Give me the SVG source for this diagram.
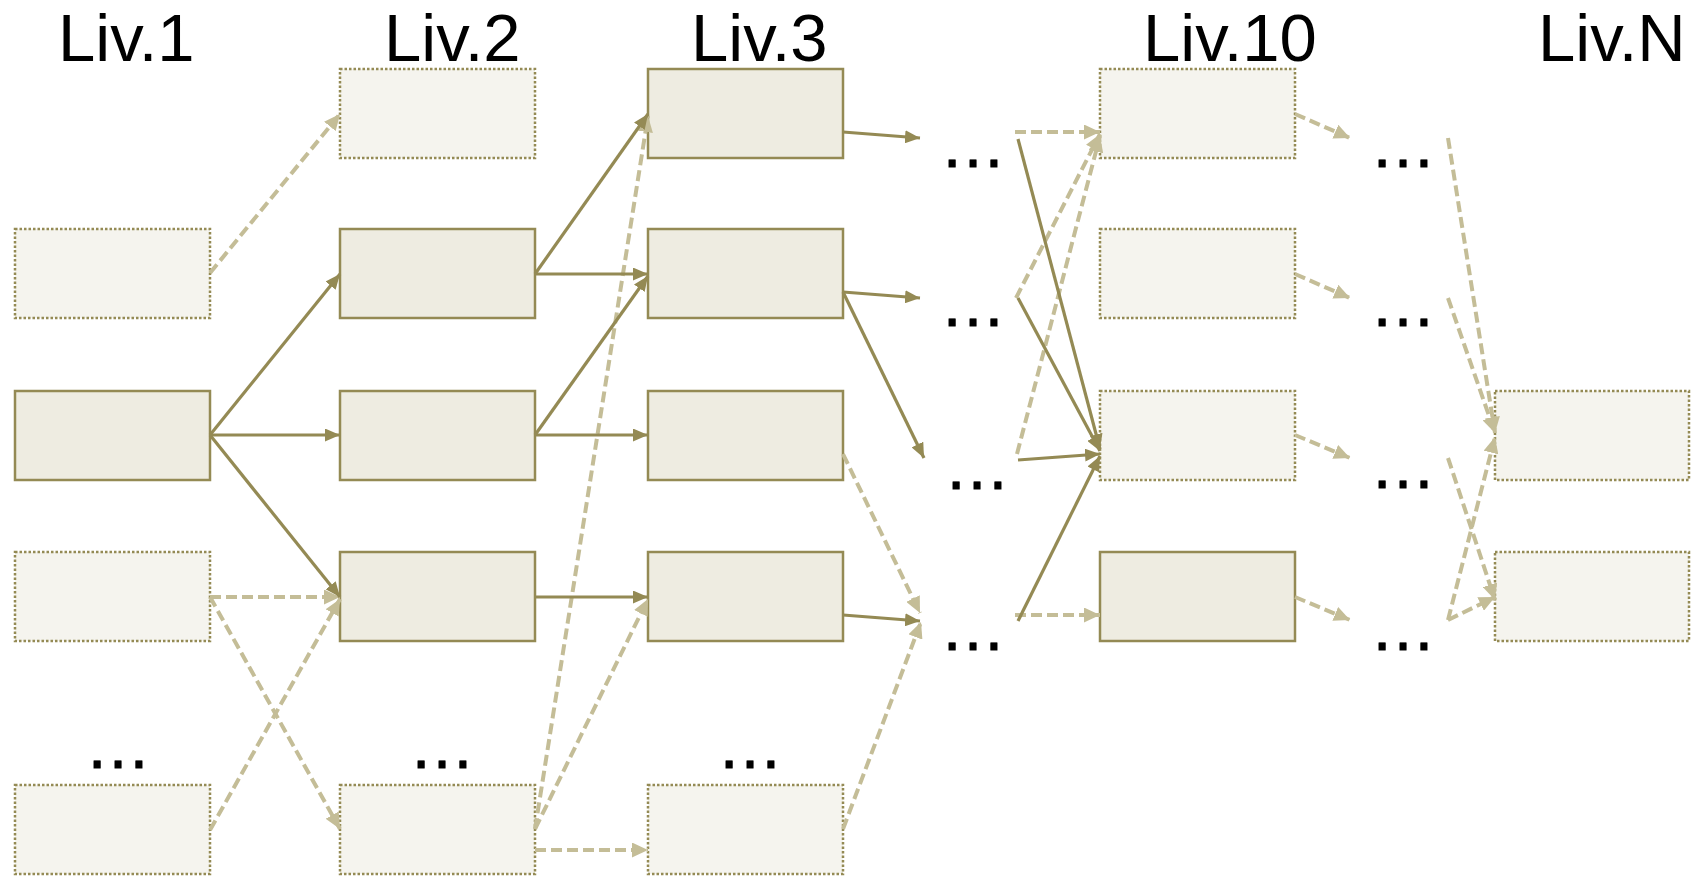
<svg xmlns="http://www.w3.org/2000/svg" width="1691" height="878" viewBox="0 0 1691 878">
<style>
.box{fill:#EEECE1;stroke:#948A54;stroke-width:2.5}
.opt{fill:#F5F4EE;stroke:#948A54;stroke-width:2.5;stroke-dasharray:2.5 2}
.s{stroke:#948A54;stroke-width:3.2;fill:none;marker-end:url(#ms)}
.d{stroke:#C4BD97;stroke-width:4;fill:none;stroke-dasharray:11 5;marker-end:url(#md)}
.lbl{font-family:"Liberation Sans",Arial,sans-serif;font-size:67px;fill:#000}
.dots{font-family:"Liberation Sans",Arial,sans-serif;font-size:66px;fill:#000;stroke:#000;stroke-width:0.8;text-anchor:middle}
</style>
<defs>
<marker id="ms" markerUnits="userSpaceOnUse" markerWidth="15" markerHeight="13" refX="15" refY="6.5" orient="auto">
<path d="M0,0 L15,6.5 L0,13 z" fill="#948A54"/>
</marker>
<marker id="md" markerUnits="userSpaceOnUse" markerWidth="16" markerHeight="15" refX="16" refY="7.5" orient="auto">
<path d="M0,0 L16,7.5 L0,15 z" fill="#C4BD97"/>
</marker>
</defs>
<rect width="1691" height="878" fill="#FFFFFF"/>
<g id="labels">
<text class="lbl" x="58" y="61">Liv.1</text>
<text class="lbl" x="384" y="61">Liv.2</text>
<text class="lbl" x="691" y="61">Liv.3</text>
<text class="lbl" x="1143" y="61">Liv.10</text>
<text class="lbl" x="1538" y="61">Liv.N</text>
</g>
<g id="ellipses">
<text class="dots" x="118" y="768">…</text>
<text class="dots" x="442" y="768">…</text>
<text class="dots" x="750" y="768">…</text>
<text class="dots" x="973" y="167">…</text>
<text class="dots" x="973" y="326">…</text>
<text class="dots" x="977" y="489">…</text>
<text class="dots" x="973" y="650">…</text>
<text class="dots" x="1403" y="167">…</text>
<text class="dots" x="1403" y="326">…</text>
<text class="dots" x="1403" y="488">…</text>
<text class="dots" x="1403" y="650">…</text>
</g>
<g id="n1_1"><rect class="opt" x="15" y="229" width="195" height="89"/></g>
<g id="n1_2"><rect class="box" x="15" y="391" width="195" height="89"/></g>
<g id="n1_3"><rect class="opt" x="15" y="552" width="195" height="89"/></g>
<g id="n1_4"><rect class="opt" x="15" y="785" width="195" height="89"/></g>
<g id="n2_0"><rect class="opt" x="340" y="69" width="195" height="89"/></g>
<g id="n2_1"><rect class="box" x="340" y="229" width="195" height="89"/></g>
<g id="n2_2"><rect class="box" x="340" y="391" width="195" height="89"/></g>
<g id="n2_3"><rect class="box" x="340" y="552" width="195" height="89"/></g>
<g id="n2_4"><rect class="opt" x="340" y="785" width="195" height="89"/></g>
<g id="n3_0"><rect class="box" x="648" y="69" width="195" height="89"/></g>
<g id="n3_1"><rect class="box" x="648" y="229" width="195" height="89"/></g>
<g id="n3_2"><rect class="box" x="648" y="391" width="195" height="89"/></g>
<g id="n3_3"><rect class="box" x="648" y="552" width="195" height="89"/></g>
<g id="n3_4"><rect class="opt" x="648" y="785" width="195" height="89"/></g>
<g id="n10_0"><rect class="opt" x="1100" y="69" width="195" height="89"/></g>
<g id="n10_1"><rect class="opt" x="1100" y="229" width="195" height="89"/></g>
<g id="n10_2"><rect class="opt" x="1100" y="391" width="195" height="89"/></g>
<g id="n10_3"><rect class="box" x="1100" y="552" width="195" height="89"/></g>
<g id="nN_2"><rect class="opt" x="1495" y="391" width="194" height="89"/></g>
<g id="nN_3"><rect class="opt" x="1495" y="552" width="194" height="89"/></g>
<g id="connectors">
<path class="d" d="M210,273 L340,114"/>
<path class="d" d="M210,597 L340,597"/>
<path class="d" d="M210,597 L340,829"/>
<path class="d" d="M210,830 L340,599"/>
<path class="d" d="M535,829 L648,116"/>
<path class="d" d="M535,829 L648,599"/>
<path class="d" d="M535,850 L648,850"/>
<path class="d" d="M843,454 L920,613"/>
<path class="d" d="M843,829 L921,622"/>
<path class="d" d="M1015,132 L1100,132"/>
<path class="d" d="M1016,298 L1100,134"/>
<path class="d" d="M1017,454 L1100,136"/>
<path class="d" d="M1015,615 L1100,615"/>
<path class="d" d="M1295,114 L1350,138"/>
<path class="d" d="M1295,274 L1350,298"/>
<path class="d" d="M1295,435 L1350,458"/>
<path class="d" d="M1295,597 L1350,620"/>
<path class="d" d="M1448,138 L1495,433"/>
<path class="d" d="M1448,298 L1495,433"/>
<path class="d" d="M1448,458 L1495,600"/>
<path class="d" d="M1448,620 L1495,437"/>
<path class="d" d="M1448,620 L1495,597"/>
<path class="s" d="M210,435 L340,274"/>
<path class="s" d="M210,435 L340,435"/>
<path class="s" d="M210,435 L340,597"/>
<path class="s" d="M535,274 L648,114"/>
<path class="s" d="M535,274 L648,274"/>
<path class="s" d="M535,435 L648,276"/>
<path class="s" d="M535,435 L648,435"/>
<path class="s" d="M535,597 L648,597"/>
<path class="s" d="M843,132 L920,138"/>
<path class="s" d="M843,292 L920,298"/>
<path class="s" d="M843,292 L924,458"/>
<path class="s" d="M843,615 L920,621"/>
<path class="s" d="M1018,139 L1100,449"/>
<path class="s" d="M1018,298 L1100,451"/>
<path class="s" d="M1018,460 L1100,454"/>
<path class="s" d="M1018,621 L1100,456"/>
</g>
</svg>
